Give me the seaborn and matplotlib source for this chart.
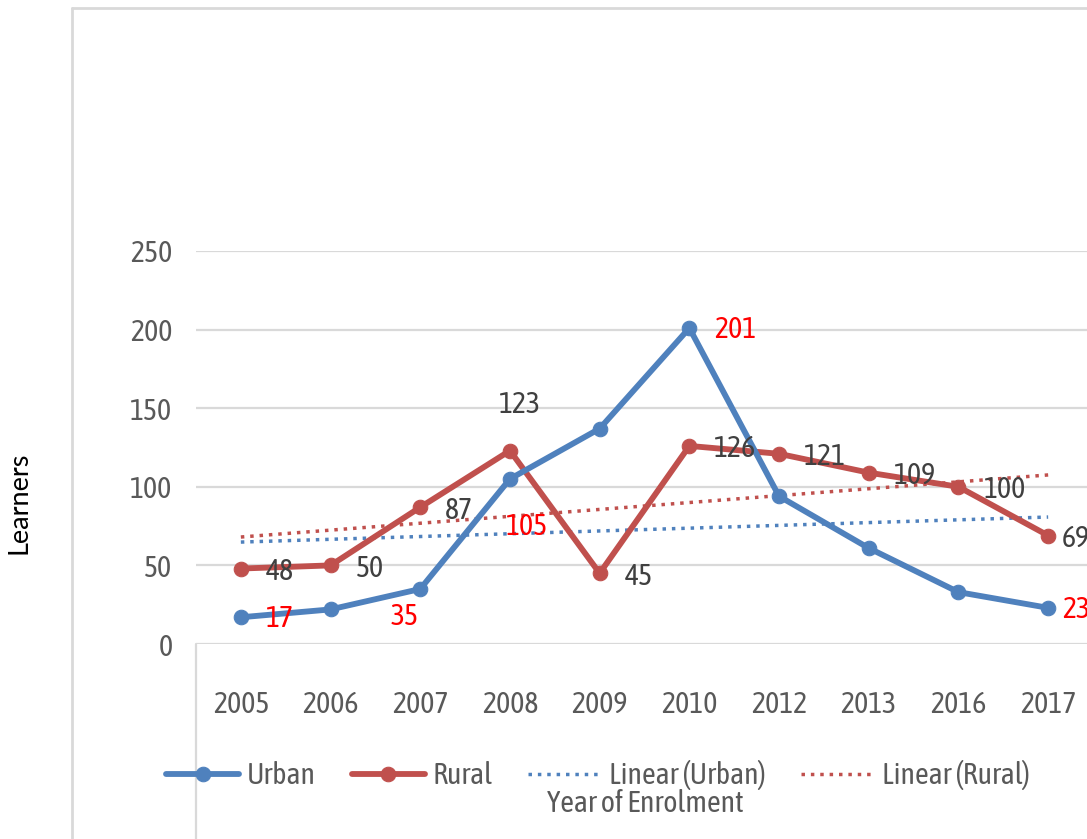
import numpy as np
import pandas as pd
import matplotlib
matplotlib.use("Agg")
import matplotlib.pyplot as plt
import seaborn as sns
from matplotlib.lines import Line2D
from matplotlib import font_manager

# ---- data ----
years = ["2005", "2006", "2007", "2008", "2009", "2010", "2012", "2013", "2016", "2017"]
urban = [17, 22, 35, 105, 137, 201, 94, 61, 33, 23]
rural = [48, 50, 87, 123, 45, 126, 121, 109, 100, 69]
urban_labelled = [0, 2, 3, 5, 9]          # urban points that carry a (red) value label
yticks = [0, 50, 100, 150, 200, 250]

BLUE = "#4F81BD"
RED = "#C0504D"
GRID = "#D9D9D9"
TXT = "#595959"
LBL = "#404040"

sns.set_style("white")
avail = {f.name for f in font_manager.fontManager.ttflist}
narrow = "DejaVu Sans"
for cand in ["Asap Condensed", "PT Sans Narrow", "Fira Sans Condensed", "Archivo Narrow",
             "Barlow Semi Condensed", "Liberation Sans Narrow"]:
    if cand in avail:
        narrow = cand
        break
plt.rcParams["font.family"] = [narrow, "DejaVu Sans"]
FS = 21.5

W, H = 1087, 839
fig = plt.figure(figsize=(W / 100, H / 100), dpi=100)
ax = fig.add_axes([196 / W, (H - 644) / H, (1093 - 196) / W, (644 - 251) / H])

idx = np.arange(len(years))
df = pd.DataFrame({"idx": idx, "year": years, "Urban": urban, "Rural": rural})

dot = (0, (1, 1.7))
sns.regplot(data=df, x="idx", y="Urban", scatter=False, ci=None, truncate=True, ax=ax,
            color=BLUE, label="Linear (Urban)", line_kws=dict(ls=dot, lw=2.5, zorder=2))
sns.regplot(data=df, x="idx", y="Rural", scatter=False, ci=None, truncate=True, ax=ax,
            color=RED, label="Linear (Rural)", line_kws=dict(ls=dot, lw=2.5, zorder=2))
sns.lineplot(data=df, x="idx", y="Urban", ax=ax, color=BLUE, lw=4.2, marker="o", ms=10.5,
             mec=BLUE, label="Urban", zorder=4)
sns.lineplot(data=df, x="idx", y="Rural", ax=ax, color=RED, lw=4.2, marker="o", ms=10.5,
             mec=RED, label="Rural", zorder=3)

ax.set_xlim(-0.5, len(years) - 0.5)
ax.set_ylim(0, 250)
ax.set_xticks(idx, years)
ax.set_yticks(yticks)
ax.tick_params(axis="x", length=0, pad=33, labelsize=FS, colors=TXT)
ax.tick_params(axis="y", length=0, pad=17, labelsize=FS, colors=TXT)
ax.grid(axis="y", color=GRID, lw=1.6)
ax.grid(axis="x", visible=False)
ax.set_axisbelow(True)
for s in ax.spines.values():
    s.set_visible(False)
ax.set_xlabel("")
ax.set_ylabel("")

# ---- data labels ----
def lab(i, v, dx, dy, color, ha="left"):
    ax.annotate(str(v), (i, v), xytext=(dx, dy), textcoords="offset points",
                ha=ha, va="center", fontsize=FS, color=color, zorder=5)

for i, v in enumerate(rural):
    if i == 3:
        lab(i, v, 7, 33, LBL, ha="center")
    elif i == 9:
        lab(i, v, 10, -2, LBL)
    else:
        lab(i, v, 18, -2, LBL)

for i in urban_labelled:
    v = urban[i]
    if i == 2:
        lab(i, v, -11, -19.5, "#FF0000", ha="center")
    elif i == 3:
        lab(i, v, 12, -34, "#FF0000", ha="center")
    elif i == 9:
        lab(i, v, 10, -1, "#FF0000")
    else:
        lab(i, v, 18, -1, "#FF0000")

# ---- legend ----
h, l = ax.get_legend_handles_labels()
if ax.get_legend() is not None:
    ax.get_legend().remove()
order = ["Urban", "Rural", "Linear (Urban)", "Linear (Rural)"]
hd = {lb: hh for hh, lb in zip(h, l)}
leg = fig.legend([hd[o] for o in order], order, loc="center",
                 bbox_to_anchor=(598 / W, 1 - 775 / H), ncol=4, frameon=False,
                 fontsize=FS, handlelength=2.45, handletextpad=0.25, columnspacing=1.2)
for t in leg.get_texts():
    t.set_color(TXT)

# ---- axis titles ----
fig.text(645 / W, 1 - 804 / H, "Year of Enrolment", ha="center", va="center",
         fontsize=FS, color=TXT)
fig.text(19 / W, 1 - 503 / H, "Learners", ha="center", va="center", rotation=90,
         fontsize=19.5, color="black", family=["Lato", "DejaVu Sans"])

# ---- chart frame ----
fig.add_artist(Line2D([72 / W, 72 / W], [1 - 8 / H, 0], transform=fig.transFigure,
                      color=GRID, lw=2))
fig.add_artist(Line2D([72 / W, 1], [1 - 8 / H, 1 - 8 / H], transform=fig.transFigure,
                      color=GRID, lw=2))
fig.add_artist(Line2D([196 / W, 196 / W], [1 - 644 / H, 0], transform=fig.transFigure,
                      color=GRID, lw=1.6))

fig.savefig("out.png", dpi=100)
